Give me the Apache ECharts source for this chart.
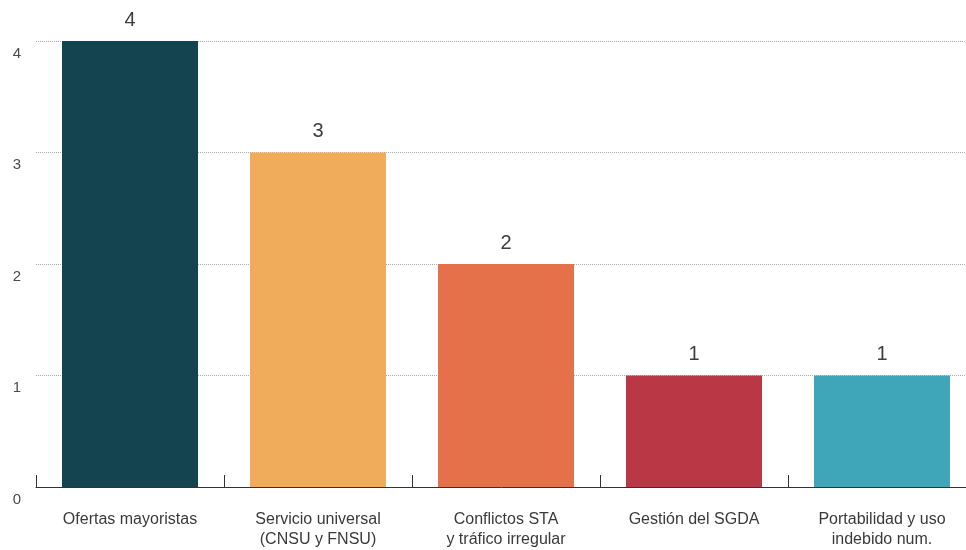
<!DOCTYPE html>
<html>
<head>
<meta charset="utf-8">
<script src="https://cdn.jsdelivr.net/npm/echarts@6/dist/echarts.min.js"></script>
<style>
  html, body { margin: 0; padding: 0; background: #fff; }
  #chart { width: 966px; height: 550px; }
</style>
</head>
<body>
<div id="chart"></div>
<script>
// Categories (with line breaks as they appear under the axis)
const categories = [
  'Ofertas mayoristas',
  'Servicio universal\n(CNSU y FNSU)',
  'Conflictos STA\ny tráfico irregular',
  'Gestión del SGDA',
  'Portabilidad y uso\nindebido num.'
];
const values = [4, 3, 2, 1, 1];
const barColors = ['#14444F', '#F0AC5A', '#E5714B', '#BA3845', '#3FA6BA'];
const yTicks = [0, 1, 2, 3, 4];

const FONT = '"Liberation Sans", "Helvetica Neue", Arial, sans-serif';

const chart = echarts.init(document.getElementById('chart'), null, { renderer: 'canvas' });
chart.setOption({
  animation: false,
  textStyle: { fontFamily: FONT },
  grid: {
    left: 36, width: 940, top: 41, height: 446,
    containLabel: false,
    outerBoundsMode: 'none'
  },
  xAxis: {
    type: 'category',
    data: categories,
    axisLine: { lineStyle: { color: '#333', width: 1 } },
    axisTick: { show: true, inside: true, length: 12, interval: 0, lineStyle: { color: '#333', width: 1 } },
    axisLabel: {
      interval: 0,
      margin: 23,
      fontSize: 16,
      lineHeight: 20,
      color: '#3a3a3a',
      fontFamily: FONT
    }
  },
  yAxis: {
    type: 'value',
    min: yTicks[0],
    max: yTicks[yTicks.length - 1],
    interval: 1,
    axisLine: { show: false },
    axisTick: { show: false },
    splitLine: { lineStyle: { color: '#aaa', type: [1, 1], width: 1 } },
    axisLabel: {
      margin: 15,
      fontSize: 15,
      color: '#4a4a4a',
      verticalAlign: 'top',
      padding: [5, 0, 0, 0],
      fontFamily: FONT
    }
  },
  series: [{
    type: 'bar',
    data: values.map((v, i) => ({ value: v, itemStyle: { color: barColors[i] } })),
    barWidth: 136,
    label: {
      show: true,
      position: 'top',
      distance: 11,
      fontSize: 20,
      color: '#3d3d3d',
      fontFamily: FONT
    }
  }]
});
</script>
</body>
</html>
